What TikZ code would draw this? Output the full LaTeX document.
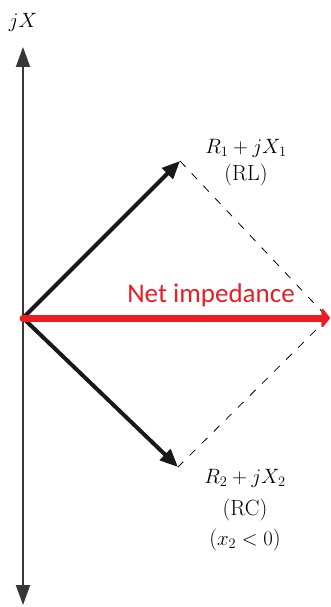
\documentclass[tikz,border=0pt]{standalone}
\usepackage{fontspec}
\newfontfamily\carlito{Carlito}
\usetikzlibrary{arrows.meta}
\definecolor{netred}{RGB}{234,28,36}
\definecolor{axisgray}{RGB}{55,55,55}
\begin{document}
\begin{tikzpicture}[x=1pt,y=-1pt,
  axisline/.style={draw=axisgray,line width=2pt,{Triangle[length=20pt,width=14pt]}-{Triangle[length=20pt,width=14pt]}},
  vecline/.style={draw=black!90,line width=4pt,-{Triangle[length=18pt,width=15pt]}},
  netline/.style={draw=netred,line width=7pt,line cap=round,-{Triangle[round,length=9pt,width=22pt]}},
  dashline/.style={draw=black,line width=0.8pt,dash pattern=on 8pt off 9pt},
  lbl/.style={inner sep=0pt,font=\fontsize{22}{26}\selectfont}]
\useasboundingbox (0,0) rectangle (331,607);
\coordinate (O) at (23,318);
\coordinate (top) at (23,47);
\coordinate (bot) at (23,605);
\coordinate (A) at (180,161);
\coordinate (B) at (178,467);
\coordinate (N) at (330,318);
\coordinate (Nd) at (328,318);
\node[lbl] (jx) at (23,22) {$jX$};
\draw[axisline] (bot) -- (top);
\draw[dashline] (A) -- (Nd);
\draw[dashline] (Nd) -- (B);
\draw[vecline] (O) -- (A);
\draw[vecline] (O) -- (B);
\draw[netline] (O) -- (N);
\node[text=netred,inner sep=0pt,font=\carlito\fontsize{27}{30}\selectfont,anchor=base] (net) at (211,302) {Net impedance};
\node[lbl,anchor=base] (l1) at (246,153) {$R_1+jX_1$};
\node[lbl] (l1b) at (246,175) {(RL)};
\node[lbl,anchor=base] (l2) at (245,483) {$R_2+jX_2$};
\node[lbl] (l2b) at (245,510) {(RC)};
\node[lbl] (l2c) at (245,540) {($x_2<0$)};
\end{tikzpicture}
\end{document}
